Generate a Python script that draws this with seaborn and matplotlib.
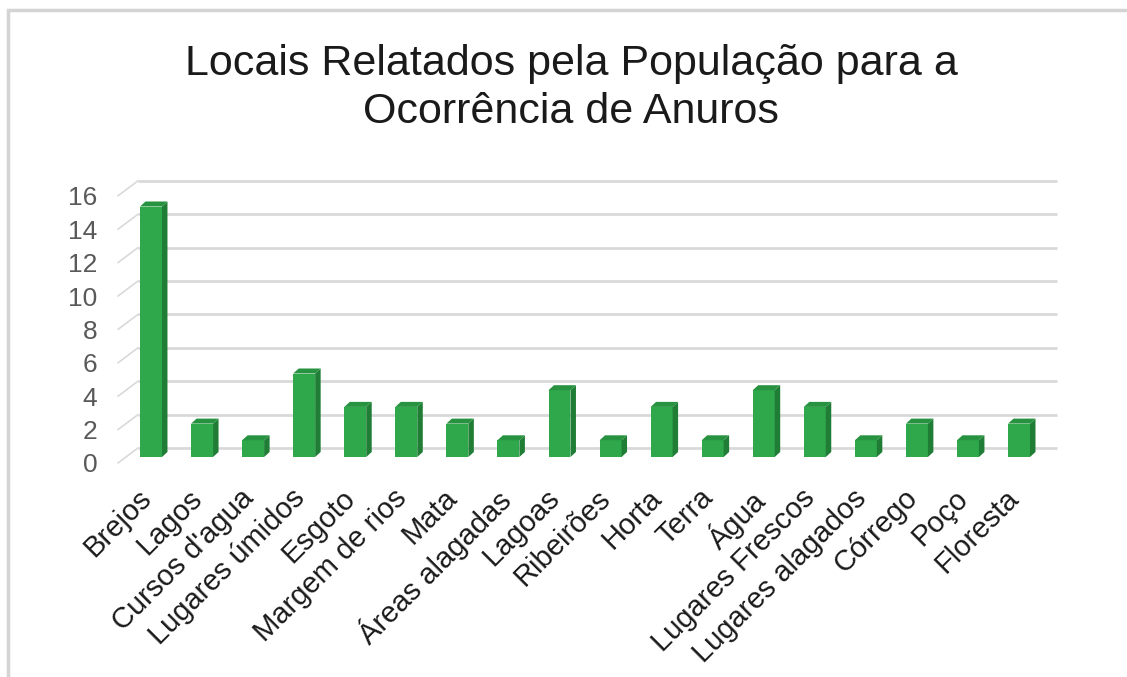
import matplotlib
matplotlib.use("Agg")
import matplotlib.pyplot as plt
import seaborn as sns
import pandas as pd
from matplotlib.patches import Polygon, Rectangle
from matplotlib.transforms import ScaledTranslation

categories = ["Brejos", "Lagos", "Cursos d'agua", "Lugares úmidos", "Esgoto",
              "Margem de rios", "Mata", "Áreas alagadas", "Lagoas", "Ribeirões",
              "Horta", "Terra", "Água", "Lugares Frescos", "Lugares alagados",
              "Córrego", "Poço", "Floresta"]
values = [15, 2, 1, 5, 3, 3, 2, 1, 4, 1, 3, 1, 4, 3, 1, 2, 1, 2]
yticks = [0, 2, 4, 6, 8, 10, 12, 14, 16]
title = "Locais Relatados pela População para a\nOcorrência de Anuros"

sns.set_theme(style="white")
plt.rcParams['font.family'] = ['Liberation Sans', 'DejaVu Sans']

W, H = 1127, 677
fig = plt.figure(figsize=(W / 100, H / 100), dpi=100)
fig.patch.set_facecolor("white")

# figure border (light gray frame)
fig.patches.append(Rectangle((8 / W, -0.1), 1.2, (H - 10) / H + 0.1,
                             transform=fig.transFigure, fill=False,
                             edgecolor="#d4d4d4", linewidth=2.5))

L, R, T, B = 100, 1060, 170, 470
ax = fig.add_axes([L / W, (H - B) / H, (R - L) / W, (B - T) / H])

df = pd.DataFrame({"cat": categories, "val": values})
front = "#2fa84c"
side = "#1f7d36"
top = "#27923f"
sns.barplot(data=df, x="cat", y="val", color=front, saturation=1,
            width=0.43, ax=ax, linewidth=0, zorder=3)

px_per_cat = 51.06
px_per_unit = 16.7
x0 = (L - 151) / px_per_cat
x1 = (R - 151) / px_per_cat
ax.set_xlim(x0, x1)
ax.set_ylim((457 - B) / px_per_unit, (457 - T) / px_per_unit)

# depth of bars
dx = 5.5 / px_per_cat
dy = 5.0 / px_per_unit
for p in list(ax.patches):
    bx, bw, bh = p.get_x(), p.get_width(), p.get_height()
    ax.add_patch(Polygon([(bx + bw, 0), (bx + bw + dx, dy), (bx + bw + dx, bh + dy),
                          (bx + bw, bh)], closed=True, facecolor=side,
                         edgecolor="none", zorder=3))
    ax.add_patch(Polygon([(bx, bh), (bx + dx, bh + dy), (bx + bw + dx, bh + dy),
                          (bx + bw, bh)], closed=True, facecolor=top,
                         edgecolor="none", zorder=3))

# back wall gridlines and side diagonals
back_off = 9.0 / px_per_unit
front_off = -6.0 / px_per_unit
gx0 = (138 - 151) / px_per_cat
gx1 = (1057 - 151) / px_per_cat
dgx = (118 - 151) / px_per_cat
for t in yticks:
    ax.plot([gx0, gx1], [t + back_off, t + back_off], color="#d9d9d9",
            linewidth=2.0, zorder=1, solid_capstyle="butt")
    ax.plot([dgx, gx0], [t + front_off, t + back_off], color="#d9d9d9",
            linewidth=1.2, zorder=1)

ax.set_yticks(yticks)
ax.set_yticklabels([str(t) for t in yticks], fontsize=19, color="#595959")
ax.tick_params(axis="y", length=0, pad=2)
for lab in ax.get_yticklabels():
    lab.set_transform(lab.get_transform() + ScaledTranslation(0, -6 / 100, fig.dpi_scale_trans))

ax.set_xticks(range(len(categories)))
ax.set_xticklabels(categories, rotation=45, ha="right", va="top",
                   rotation_mode="anchor", fontsize=21, color="#1a1a1a")
ax.tick_params(axis="x", length=0, pad=10)
for lab in ax.get_xticklabels():
    lab.set_transform(lab.get_transform() + ScaledTranslation(-14 / 100, 0, fig.dpi_scale_trans))

ax.set_xlabel("")
ax.set_ylabel("")
for s in ax.spines.values():
    s.set_visible(False)
ax.set_facecolor("none")

fig.text(571 / W, 1 - 88 / H, title, ha="center", va="center", fontsize=31,
         color="#1a1a1a", linespacing=1.25)

fig.savefig("out.png", dpi=100, facecolor="white")
